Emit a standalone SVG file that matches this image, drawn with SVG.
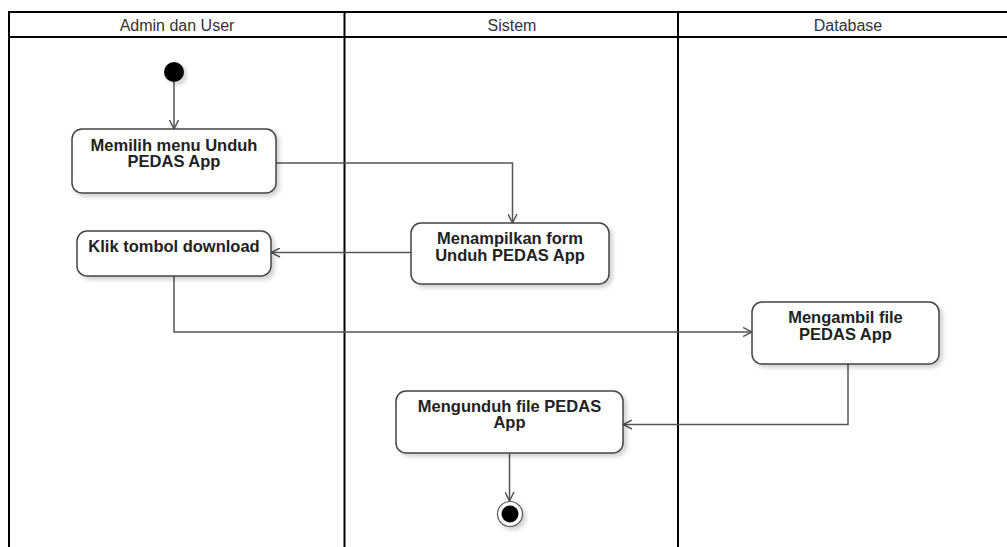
<svg xmlns="http://www.w3.org/2000/svg" width="1007" height="547" viewBox="0 0 1007 547">
  <style>
    .lane { stroke: #000; stroke-width: 2; fill: none; }
    .hdr { font-family: "Liberation Sans", Arial, sans-serif; font-size: 16px; fill: #333; text-anchor: middle; }
    .box { fill: #fff; stroke: #444; stroke-width: 1.5; filter: url(#sh); }
    .lbl { font-family: "Liberation Sans", Arial, sans-serif; font-size: 16.5px; font-weight: bold; fill: #222; text-anchor: middle; }
    .edge { fill: none; stroke: #555; stroke-width: 1.5; marker-end: url(#arr); }
  </style>
  <defs>
    <filter id="sh" x="-10%" y="-10%" width="130%" height="140%">
      <feDropShadow dx="3" dy="3" stdDeviation="2" flood-color="#000" flood-opacity="0.18"/>
    </filter>
    <marker id="arr" viewBox="0 0 10 10" markerUnits="userSpaceOnUse" markerWidth="10" markerHeight="10" refX="9.5" refY="5" orient="auto">
      <path d="M0.5,0.5 L9.5,5 L0.5,9.5" fill="none" stroke="#555" stroke-width="1.5"/>
    </marker>
  </defs>
  <rect width="1007" height="547" fill="#fff"/>

  <g id="lanes">
    <line class="lane" x1="8" y1="12" x2="1007" y2="12"/>
    <line class="lane" x1="9" y1="37" x2="1007" y2="37"/>
    <line class="lane" x1="9" y1="12" x2="9" y2="547"/>
    <line class="lane" x1="344.5" y1="12" x2="344.5" y2="547"/>
    <line class="lane" x1="678" y1="12" x2="678" y2="547"/>
    <text class="hdr" x="177" y="31">Admin dan User</text>
    <text class="hdr" x="512" y="31">Sistem</text>
    <text class="hdr" x="848" y="31">Database</text>
  </g>

  <g id="connectors">
    <path class="edge" d="M174,82 L174,129"/>
    <path class="edge" d="M276,163 L512.5,163 L512.5,223"/>
    <path class="edge" d="M411,252.5 L271,252.5"/>
    <path class="edge" d="M174,276 L174,332 L752,332"/>
    <path class="edge" d="M848,364 L848,424.5 L623,424.5"/>
    <path class="edge" d="M509.5,453 L509.5,501"/>
  </g>

  <g id="start">
    <circle cx="174" cy="72" r="10" fill="#000" filter="url(#sh)"/>
  </g>

  <g id="n1">
    <rect class="box" x="72" y="129" width="204" height="64" rx="10"/>
    <text class="lbl" x="174" y="151">Memilih menu Unduh</text>
    <text class="lbl" x="174" y="167">PEDAS App</text>
  </g>

  <g id="n2">
    <rect class="box" x="411" y="223" width="198" height="61" rx="10"/>
    <text class="lbl" x="510" y="244">Menampilkan form</text>
    <text class="lbl" x="510" y="261">Unduh PEDAS App</text>
  </g>

  <g id="n3">
    <rect class="box" x="77" y="231" width="194" height="45" rx="10"/>
    <text class="lbl" x="174" y="252">Klik tombol download</text>
  </g>

  <g id="n4">
    <rect class="box" x="752" y="302" width="187" height="62" rx="10"/>
    <text class="lbl" x="845.5" y="323">Mengambil file</text>
    <text class="lbl" x="845.5" y="340">PEDAS App</text>
  </g>

  <g id="n5">
    <rect class="box" x="396" y="391" width="227" height="62" rx="10"/>
    <text class="lbl" x="509.5" y="411.5">Mengunduh file PEDAS</text>
    <text class="lbl" x="509.5" y="428">App</text>
  </g>

  <g id="end">
    <circle cx="510" cy="514" r="12.5" fill="#fff" stroke="#555" stroke-width="1.2" filter="url(#sh)"/>
    <circle cx="510" cy="514" r="8.5" fill="#000"/>
  </g>
</svg>
